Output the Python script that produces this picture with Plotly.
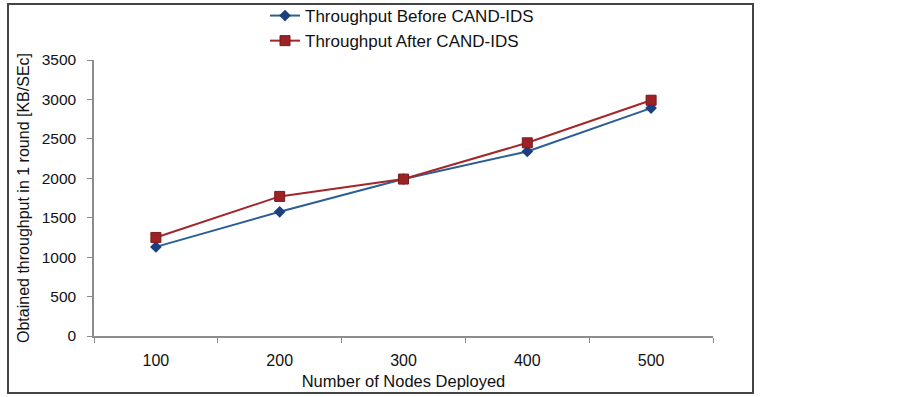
import plotly.graph_objects as go

nodes = ["100", "200", "300", "400", "500"]
before = [1130, 1575, 1990, 2340, 2890]
after = [1250, 1770, 1990, 2450, 2990]
y_ticks = [0, 500, 1000, 1500, 2000, 2500, 3000, 3500]

W, H = 903, 397
L, R, T, B = 94, 190, 60, 61
pw, ph = W - L - R, H - T - B

def px_x(x):
    return (x - L) / pw

def px_y(y):
    return (H - B - y) / ph

fig = go.Figure()
fig.add_trace(go.Scatter(
    x=nodes, y=before, mode="lines+markers", name="Throughput Before CAND-IDS",
    line=dict(color="#2C5E95", width=2),
    marker=dict(symbol="diamond", size=9, color="#1B3F80", line=dict(color="#1B3F80", width=0)),
))
fig.add_trace(go.Scatter(
    x=nodes, y=after, mode="lines+markers", name="Throughput After CAND-IDS",
    line=dict(color="#A3262A", width=2),
    marker=dict(symbol="square", size=10, color="#9C2226", line=dict(color="#7A1A1D", width=1)),
))

fig.update_layout(
    width=W, height=H,
    margin=dict(l=L, r=R, t=T, b=B, autoexpand=False),
    paper_bgcolor="white", plot_bgcolor="white",
    font=dict(family="Liberation Sans, Arial, sans-serif", size=16, color="#111"),
    showlegend=True,
    legend=dict(
        x=px_x(265), y=px_y(-2), xanchor="left", yanchor="top",
        bgcolor="rgba(0,0,0,0)", font=dict(size=17), tracegroupgap=0,
        itemwidth=30,
    ),
    xaxis=dict(
        type="category", range=[-0.5, 4.5], tickson="boundaries",
        showline=True, linecolor="#8C8C8C", linewidth=1.5,
        ticks="outside", ticklen=5, tickcolor="#8C8C8C",
        ticklabelstandoff=9,
        showgrid=False, zeroline=False,
        tickfont=dict(size=16),
        title=dict(text="Number of Nodes Deployed", font=dict(size=16.5), standoff=7),
    ),
    yaxis=dict(
        range=[0, 3500], tickvals=y_ticks,
        showline=True, linecolor="#8C8C8C", linewidth=1.5,
        ticks="outside", ticklen=5, tickcolor="#8C8C8C",
        ticklabelstandoff=8,
        showgrid=False, zeroline=False,
        tickfont=dict(size=15.5),
        title=dict(text="Obtained throughput in 1 round [KB/SEc]", font=dict(size=16), standoff=8),
    ),
)

fig.add_shape(
    type="rect", xref="paper", yref="paper",
    x0=px_x(8), x1=px_x(753), y0=px_y(393), y1=px_y(4),
    line=dict(color="#444", width=2), fillcolor="rgba(0,0,0,0)", layer="below",
)

fig.write_html("out.html", config={"displayModeBar": False},
               post_script="document.body.style.margin='0';")
